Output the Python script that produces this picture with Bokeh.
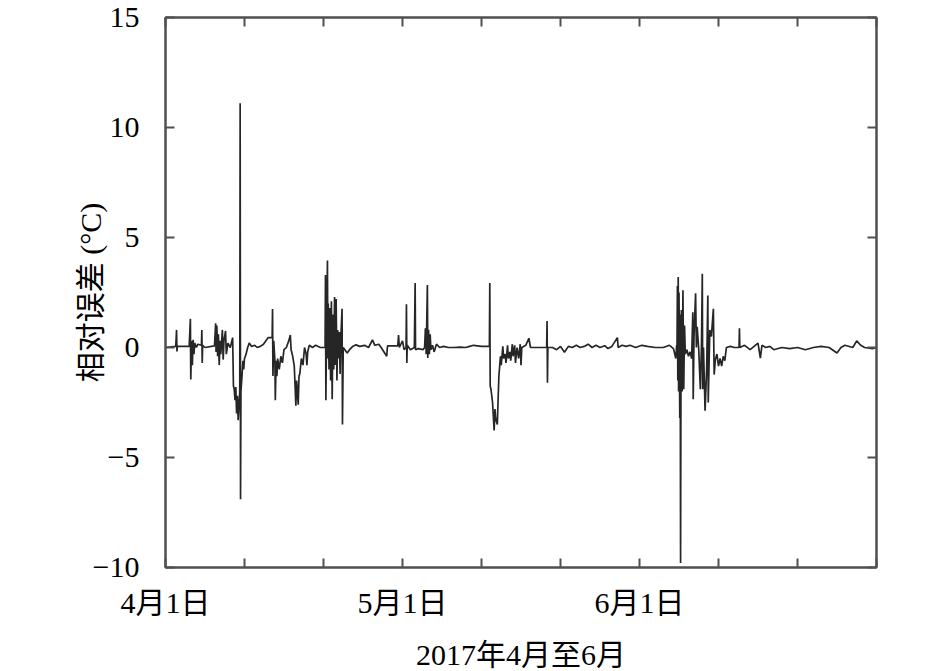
from bokeh.plotting import figure
from bokeh.models import FixedTicker, LinearAxis, Range1d
from bokeh.embed import file_html
from bokeh.resources import INLINE

# ---- data (days since 1 April 2017, relative error in °C) ----
days = [
    0.0, 1.3, 1.4, 1.45, 1.5, 3.0, 3.15, 3.2, 3.3, 3.4, 3.5, 3.6, 3.7, 3.9, 4.1, 4.55, 4.6, 4.65, 4.7, 5.0,
    6.2, 6.35, 6.4, 6.5, 6.6, 6.7, 6.8, 6.9, 7.0, 7.2, 7.3, 7.4, 7.6, 7.7, 7.9, 8.2, 8.5, 8.6, 8.7, 8.8,
    8.9, 9.0, 9.1, 9.2, 9.4, 9.45, 9.5, 9.55, 9.7, 9.8, 9.9, 10.0, 10.2, 10.4, 10.6, 10.9, 11.3, 11.6, 12.0, 12.4,
    12.8, 13.0, 13.5, 13.55, 13.6, 13.7, 13.85, 13.9, 14.0, 14.1, 14.2, 14.4, 14.6, 14.8, 15.0, 15.3, 15.6, 15.8, 15.9, 16.1,
    16.3, 16.4, 16.5, 16.6, 16.8, 16.9, 17.0, 17.2, 17.4, 17.6, 17.8, 17.9, 18.0, 18.2, 18.6, 19.0, 19.6, 20.2, 20.25, 20.3,
    20.4, 20.5, 20.55, 20.6, 20.7, 20.8, 20.9, 21.0, 21.1, 21.2, 21.3, 21.4, 21.5, 21.6, 21.7, 21.8, 21.9, 22.0, 22.1, 22.2,
    22.35, 22.4, 22.5, 22.7, 23.0, 23.3, 23.7, 24.1, 24.6, 25.2, 25.7, 26.2, 26.5, 27.0, 27.3, 28.0, 28.1, 28.6, 29.4, 29.5,
    29.6, 30.0, 30.2, 30.45, 30.5, 30.55, 30.6, 31.0, 31.5, 31.6, 31.65, 32.0, 32.6, 32.8, 32.9, 33.0, 33.15, 33.2, 33.3, 33.4,
    33.5, 33.6, 33.8, 34.0, 34.3, 34.7, 35.2, 35.8, 36.5, 37.3, 38.0, 38.5, 39.0, 40.0, 41.0, 41.05, 41.1, 41.2, 41.4, 41.6,
    41.7, 41.8, 42.0, 42.2, 42.4, 42.5, 42.7, 42.8, 43.0, 43.1, 43.3, 43.4, 43.6, 43.7, 43.9, 44.0, 44.2, 44.3, 44.5, 44.7,
    44.9, 45.0, 45.1, 45.6, 46.0, 46.2, 47.0, 48.25, 48.3, 48.35, 48.4, 49.0, 49.5, 50.0, 50.5, 51.0, 51.5, 52.0, 52.5, 53.0,
    53.5, 54.0, 54.5, 55.0, 55.6, 56.0, 56.5, 57.2, 57.3, 57.8, 58.3, 58.8, 59.5, 60.3, 61.0, 62.0, 63.0, 63.8, 64.3, 64.6,
    64.7, 64.75, 64.8, 64.85, 64.9, 64.95, 65.0, 65.1, 65.15, 65.2, 65.25, 65.3, 65.4, 65.5, 65.6, 65.7, 65.8, 66.0, 66.2, 66.4,
    66.6, 66.75, 66.8, 66.9, 67.1, 67.2, 67.3, 67.5, 67.7, 67.85, 67.95, 68.0, 68.1, 68.3, 68.5, 68.65, 68.7, 68.9, 69.1, 69.35,
    69.45, 69.6, 69.8, 70.0, 70.2, 70.4, 70.6, 70.8, 71.0, 71.5, 72.0, 72.6, 72.65, 72.7, 73.3, 74.0, 74.5, 75.0, 75.3, 75.5,
    76.0, 76.5, 77.0, 78.0, 79.0, 80.0, 81.0, 82.0, 83.0, 84.0, 85.0, 85.5, 86.0, 87.0, 87.5, 88.0, 88.5, 89.5, 90.0,
]
errors = [
    0.0, 0.05, 0.8, -0.18, 0.05, 0.05, 1.3, -1.45, 0.3, -0.8, 0.35, -0.3, 0.2, 0.0, 0.15, 0.1, 0.8, -0.7, 0.1, 0.0,
    0.07, 1.1, -0.2, 1.0, -0.4, 0.6, -0.8, 0.3, -0.3, 0.8, -0.55, 0.3, 0.75, -0.3, 0.2, 0.0, 0.45, -1.75, -1.9, -2.4,
    -1.8, -3.0, -2.2, -3.3, -2.0, 11.1, -6.9, -2.0, -1.2, -0.6, -1.0, -0.5, -0.3, 0.0, 0.2, 0.05, 0.1, 0.0, 0.05, 0.15,
    0.35, 0.45, 0.45, 1.75, -1.3, 0.3, -0.6, -2.4, -0.6, -1.3, -0.5, -1.0, -0.4, -0.7, -0.1, 0.0, 0.3, 0.57, -0.1, -0.4,
    -0.85, -1.7, -2.65, -1.5, -2.6, -1.3, -1.2, -0.5, -0.8, 0.0, -0.3, -0.8, -0.2, 0.1, 0.0, 0.1, 0.0, 0.0, 3.3, -2.4,
    1.0, 3.95, -0.5, 2.0, -1.0, 1.8, -1.5, 2.1, -2.35, 1.5, -1.0, 2.3, -0.8, 2.2, -1.5, 0.8, -0.5, 0.7, -1.2, 0.5,
    1.76, -3.5, 0.0, -0.1, -0.25, -0.1, 0.05, 0.12, 0.05, 0.1, 0.0, 0.35, 0.1, 0.15, 0.0, -0.4, 0.07, 0.07, 0.07, 0.57,
    0.0, 0.3, -0.1, 0.0, 1.96, -0.7, 0.1, -0.1, 0.0, 2.93, -0.1, -0.05, -0.1, 0.0, 0.87, -0.3, 2.84, -0.48, 0.8, -0.3,
    0.6, -0.1, 0.1, -0.2, 0.15, 0.0, 0.05, 0.0, 0.0, 0.02, 0.0, 0.05, 0.1, 0.05, 0.05, 2.93, -1.75, -1.9, -2.5, -3.77,
    -2.8, -3.25, -3.5, -1.3, -0.4, -0.8, 0.05, -0.5, -0.3, -0.7, 0.1, -0.5, -0.2, -0.6, 0.15, -0.4, 0.1, -0.7, 0.0, -0.5,
    0.15, -0.8, 0.0, 0.1, 0.42, 0.0, 0.0, 0.0, 1.2, -1.6, 0.0, 0.0, -0.1, 0.05, -0.22, 0.05, 0.0, 0.1, 0.0, 0.05,
    0.15, 0.0, 0.1, 0.0, 0.08, -0.05, 0.05, 0.45, 0.0, 0.1, 0.05, 0.1, 0.0, 0.1, 0.05, 0.0, 0.0, 0.1, -0.05, -0.5,
    0.1, 0.0, 2.8, -1.5, 3.2, -2.0, 2.5, -3.2, 1.5, -9.8, -1.0, 1.7, -2.0, 2.6, -1.9, 1.0, -0.3, -0.1, -0.4, -0.2,
    -0.5, 1.6, -2.35, 0.5, 2.47, 0.0, 0.94, -0.1, -1.9, 0.2, 3.35, -1.9, 0.0, -2.87, -1.0, 2.36, -2.5, 0.8, 0.5, 1.76,
    -1.23, -0.55, -0.3, -0.85, -0.5, -0.85, -0.4, -0.6, 0.0, 0.05, 0.0, 0.0, 0.87, 0.0, 0.1, -0.1, 0.05, 0.2, -0.48, 0.1,
    0.0, 0.05, -0.1, 0.0, -0.05, 0.0, -0.1, 0.0, 0.05, 0.0, -0.25, 0.0, 0.1, 0.0, 0.3, 0.1, 0.0, -0.05, 0.0,
]

x_label_ticks = [0, 30, 60]
x_other_ticks = [10, 20, 40, 50, 70, 80, 90]
x_all_ticks = [0, 10, 20, 30, 40, 50, 60, 70, 80, 90]
x_tick_labels = {0: "4月1日", 30: "5月1日", 60: "6月1日"}
y_ticks = [-10, -5, 0, 5, 10, 15]
y_tick_labels = {-10: "\u221210", -5: "\u22125", 0: "0", 5: "5", 10: "10", 15: "15"}

FONT = "'Liberation Serif', 'Noto Sans CJK SC'"
AXIS_COLOR = "#505050"

p = figure(
    output_backend="svg", toolbar_location=None,
    frame_width=711, frame_height=550,
    x_range=Range1d(0, 90), y_range=Range1d(-10, 15),
    min_border_left=165, min_border_top=17, min_border_right=40, min_border_bottom=10,
)
p.background_fill_color = "white"
p.border_fill_color = "white"
p.grid.visible = False
p.outline_line_color = AXIS_COLOR
p.outline_line_width = 2

p.line(days, errors, line_color="#262626", line_width=1.7)

def style_axis(ax):
    ax.axis_line_color = AXIS_COLOR
    ax.axis_line_width = 2
    ax.major_tick_line_color = AXIS_COLOR
    ax.major_tick_line_width = 2
    ax.major_tick_in = 9
    ax.major_tick_out = 0
    ax.minor_tick_line_color = AXIS_COLOR
    ax.minor_tick_line_width = 2
    ax.minor_tick_in = 9
    ax.minor_tick_out = 0
    ax.major_label_text_font = FONT
    ax.major_label_text_font_size = "30px"
    ax.major_label_text_color = "black"
    ax.axis_label_text_font = FONT
    ax.axis_label_text_font_size = "30px"
    ax.axis_label_text_font_style = "normal"
    ax.axis_label_text_color = "black"

xa = p.xaxis[0]
ya = p.yaxis[0]
style_axis(xa)
style_axis(ya)
xa.ticker = FixedTicker(ticks=x_label_ticks, minor_ticks=x_other_ticks)
xa.major_label_overrides = x_tick_labels
xa.major_label_standoff = 18
xa.axis_label = "2017年4月至6月"
xa.axis_label_standoff = 16

ya.ticker = FixedTicker(ticks=y_ticks, minor_ticks=[])
ya.major_label_overrides = y_tick_labels
ya.major_label_standoff = 26
ya.axis_label = "相对误差 (°C)"
ya.axis_label_standoff = -17

for loc in ("above", "right"):
    ax = LinearAxis()
    style_axis(ax)
    ax.ticker = FixedTicker(ticks=[], minor_ticks=x_all_ticks if loc == "above" else y_ticks)
    ax.major_label_standoff = 0
    p.add_layout(ax, loc)

open("out.html", "w").write(file_html(p, INLINE))
